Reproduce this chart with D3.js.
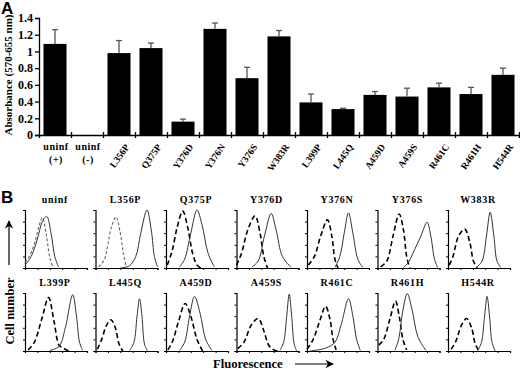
<!DOCTYPE html>
<html>
<head>
<meta charset="utf-8">
<script src="https://cdn.jsdelivr.net/npm/d3@7"></script>
<style>
  body { margin: 0; background: #fff; }
  text { font-family: "Liberation Serif", "DejaVu Serif", serif; font-weight: bold; }
</style>
</head>
<body>
<div id="chart"></div>
<script>
// Panel A data
const categories = ["uninf|(+)", "uninf|(-)", "L356P", "Q375P", "Y376D", "Y376N", "Y376S", "W383R",
    "L399P", "L445Q", "A459D", "A459S", "R461C", "R461H", "H544R"];
const absorbance = [1.09, -0.008, 0.98, 1.04, 0.16, 1.27, 0.68, 1.18, 0.39, 0.31, 0.48, 0.46, 0.57, 0.49, 0.72];
const errors = [0.17, 0, 0.15, 0.06, 0.03, 0.07, 0.13, 0.07, 0.10, 0.01, 0.04, 0.10, 0.05, 0.08, 0.08];
const yTicks = [0, 0.2, 0.4, 0.6, 0.8, 1, 1.2, 1.4];

// Panel B data: histogram outlines as [fluorescence, count] in axis fractions
const panelNames = ["uninf", "L356P", "Q375P", "Y376D", "Y376N", "Y376S", "W383R",
    "L399P", "L445Q", "A459D", "A459S", "R461C", "R461H", "H544R"];
const dashedCurves = [
    [[0,0.1],[0.08,0.22],[0.16,0.45],[0.22,0.7],[0.28,0.87],[0.34,0.6],[0.40,0.18],[0.45,0.02]],
    [[0.05,0.02],[0.14,0.14],[0.19,0.35],[0.26,0.72],[0.33,0.88],[0.40,0.6],[0.45,0.25],[0.50,0.01]],
    [[0.02,0.05],[0.10,0.3],[0.18,0.7],[0.27,0.98],[0.35,0.7],[0.43,0.25],[0.50,0.05],[0.56,0]],
    [[0,0.05],[0.08,0.25],[0.18,0.65],[0.30,0.9],[0.38,0.6],[0.44,0.2],[0.50,0]],
    [[0.02,0.05],[0.12,0.2],[0.22,0.55],[0.33,0.83],[0.40,0.55],[0.45,0.15],[0.50,0]],
    [[0.05,0.02],[0.15,0.12],[0.25,0.55],[0.35,0.93],[0.42,0.65],[0.47,0.2],[0.52,0]],
    [[0.02,0.05],[0.08,0.2],[0.17,0.55],[0.27,0.67],[0.35,0.45],[0.41,0.12],[0.47,0]],
    [[0.05,0.02],[0.15,0.15],[0.27,0.55],[0.38,0.92],[0.47,0.5],[0.55,0.1],[0.62,0.05],[0.70,0]],
    [[0.03,0.03],[0.10,0.2],[0.18,0.45],[0.25,0.54],[0.32,0.4],[0.38,0.12],[0.44,0]],
    [[0.03,0.02],[0.10,0.15],[0.20,0.5],[0.31,0.82],[0.40,0.6],[0.50,0.2],[0.59,0]],
    [[0.02,0.04],[0.12,0.15],[0.24,0.45],[0.35,0.56],[0.44,0.35],[0.52,0.1],[0.60,0.02],[0.68,0]],
    [[0,0.03],[0.10,0.2],[0.20,0.5],[0.30,0.77],[0.37,0.55],[0.42,0.2],[0.47,0.02]],
    [[0.02,0.1],[0.10,0.2],[0.20,0.55],[0.29,0.86],[0.35,0.6],[0.41,0.2],[0.47,0.02]],
    [[0.05,0.03],[0.12,0.15],[0.22,0.45],[0.30,0.56],[0.38,0.4],[0.44,0.12],[0.50,0]]
];
const solidCurves = [
    [[0,0.05],[0.10,0.2],[0.20,0.5],[0.28,0.8],[0.35,0.89],[0.42,0.6],[0.48,0.2],[0.54,0.02]],
    [[0.40,0],[0.55,0.04],[0.65,0.2],[0.73,0.6],[0.83,1.0],[0.90,0.65],[0.95,0.2],[1.0,0.02]],
    [[0.22,0.02],[0.30,0.15],[0.40,0.6],[0.50,1.0],[0.58,0.75],[0.68,0.25],[0.78,0.02]],
    [[0.25,0.02],[0.35,0.12],[0.45,0.55],[0.56,0.94],[0.64,0.65],[0.74,0.2],[0.88,0.01]],
    [[0.45,0.01],[0.53,0.2],[0.60,0.6],[0.67,0.95],[0.74,0.6],[0.82,0.15],[0.90,0.01]],
    [[0.42,0.01],[0.50,0.1],[0.60,0.32],[0.70,0.55],[0.80,0.79],[0.86,0.55],[0.92,0.15],[0.97,0.01]],
    [[0.46,0.01],[0.55,0.12],[0.62,0.55],[0.68,0.96],[0.74,0.55],[0.79,0.12],[0.85,0.01]],
    [[0.40,0.01],[0.55,0.08],[0.65,0.4],[0.77,0.97],[0.83,0.6],[0.88,0.15],[0.93,0.01]],
    [[0.55,0.01],[0.62,0.15],[0.67,0.6],[0.71,0.9],[0.75,0.6],[0.79,0.12],[0.84,0]],
    [[0.22,0.01],[0.30,0.15],[0.38,0.6],[0.46,0.94],[0.55,0.65],[0.64,0.2],[0.74,0.01]],
    [[0.70,0.01],[0.76,0.15],[0.81,0.6],[0.85,0.98],[0.89,0.6],[0.93,0.12],[0.97,0]],
    [[0.05,0],[0.30,0.05],[0.45,0.15],[0.55,0.45],[0.67,0.9],[0.74,0.6],[0.80,0.2],[0.86,0.01]],
    [[0.28,0.01],[0.34,0.2],[0.41,0.7],[0.48,0.99],[0.56,0.7],[0.65,0.25],[0.78,0.01]],
    [[0.48,0.01],[0.54,0.15],[0.59,0.6],[0.63,0.94],[0.67,0.6],[0.71,0.15],[0.76,0]]
];
const lightDashed = ["uninf", "L356P"];

const width = 520, height = 370;

const svg = d3.select("#chart")
    .append("svg")
    .attr("width", width)
    .attr("height", height)
    .style("background", "#fff");

// ---------- Panel A ----------
svg.append("text")
    .attr("x", 1)
    .attr("y", 14)
    .style("font-family", "'Liberation Sans', Arial, sans-serif")
    .style("font-size", "17px")
    .text("A");

const x = d3.scaleBand()
    .domain(categories)
    .range([39, 519])
    .paddingInner(0.28)
    .paddingOuter(0.14);

const y = d3.scaleLinear()
    .domain([0, 1.4])
    .range([135, 18]);

// boundaries between categories
const xEdge = d3.scaleLinear().domain([0, categories.length]).range([39, 519]);

const yAxis = svg.append("g")
    .attr("transform", "translate(39,0)")
    .call(d3.axisLeft(y).tickValues(yTicks).tickSize(4).tickFormat(d => d));
yAxis.select(".domain").attr("stroke", "#000").attr("stroke-width", 1.3);
yAxis.selectAll(".tick line").attr("stroke-width", 1.3);
yAxis.selectAll("text")
    .attr("font-size", 12)
    .attr("font-family", "'Liberation Serif', serif")
    .style("font-size", "12px")
    .style("font-weight", "bold")
    .attr("x", -6);

const xAxis = svg.append("g")
    .attr("transform", "translate(0,135)")
    .call(d3.axisBottom(xEdge).tickValues(d3.range(1, categories.length + 1)).tickSize(3).tickFormat(""));
xAxis.select(".domain").attr("stroke", "#000").attr("stroke-width", 1.3);
xAxis.selectAll(".tick line").attr("y1", -3).attr("stroke-width", 1.3);

svg.append("text")
    .attr("transform", "translate(12,75) rotate(-90)")
    .attr("text-anchor", "middle")
    .style("font-size", "11px")
    .text("Absorbance (570-655 nm)");

// bars
svg.selectAll(".bar")
    .data(categories)
    .enter()
    .append("rect")
    .attr("class", "bar")
    .attr("x", d => x(d))
    .attr("width", x.bandwidth())
    .attr("y", (d, i) => y(Math.max(0, absorbance[i])))
    .attr("height", (d, i) => Math.max(1, Math.abs(y(absorbance[i]) - y(0))))
    .attr("fill", "#000");

// error bars
const errG = svg.selectAll(".err")
    .data(categories.filter((d, i) => errors[i] > 0))
    .enter()
    .append("g")
    .attr("class", "err");
errG.append("line")
    .attr("x1", d => x(d) + x.bandwidth() / 2)
    .attr("x2", d => x(d) + x.bandwidth() / 2)
    .attr("y1", d => y(absorbance[categories.indexOf(d)]))
    .attr("y2", d => { const i = categories.indexOf(d); return y(absorbance[i] + errors[i]); })
    .attr("stroke", "#555")
    .attr("stroke-width", 1.3);
errG.append("line")
    .attr("x1", d => x(d) + x.bandwidth() / 2 - 3)
    .attr("x2", d => x(d) + x.bandwidth() / 2 + 3)
    .attr("y1", d => { const i = categories.indexOf(d); return y(absorbance[i] + errors[i]); })
    .attr("y2", d => { const i = categories.indexOf(d); return y(absorbance[i] + errors[i]); })
    .attr("stroke", "#555")
    .attr("stroke-width", 1.3);

// category labels
categories.forEach(c => {
    const cx = x(c) + x.bandwidth() / 2;
    if (c.includes("|")) {
        const parts = c.split("|");
        svg.append("text")
            .attr("x", cx + 1)
            .attr("y", 150)
            .attr("text-anchor", "middle")
            .style("font-size", "10px")
            .style("letter-spacing", "0.5px")
            .text(parts[0]);
        svg.append("text")
            .attr("x", cx + 1)
            .attr("y", 163)
            .attr("text-anchor", "middle")
            .style("font-size", "10px")
            .style("letter-spacing", "0.5px")
            .text(parts[1]);
    } else {
        svg.append("text")
            .attr("transform", `translate(${cx + 8},${145}) rotate(-55)`)
            .attr("text-anchor", "end")
            .attr("dy", "0.35em")
            .style("font-size", "9.5px")
            .text(c);
    }
});

// ---------- Panel B ----------
svg.append("text")
    .attr("x", 1)
    .attr("y", 203)
    .style("font-family", "'Liberation Sans', Arial, sans-serif")
    .style("font-size", "17px")
    .text("B");

const panelW = 62, panelH = 58;
const colStep = 70.5;
const rowTops = [210, 293];

const px = d3.scaleLinear().domain([0, 1]).range([0, panelW]);
const py = d3.scaleLinear().domain([0, 1]).range([panelH, 0]);
const curve = d3.line()
    .x(d => px(d[0]))
    .y(d => Math.min(panelH, py(d[1])))
    .curve(d3.curveCatmullRom.alpha(0.5));

panelNames.forEach((name, i) => {
    const col = i % 7, row = Math.floor(i / 7);
    const g = svg.append("g")
        .attr("transform", `translate(${25 + col * colStep},${rowTops[row]})`);

    g.append("text")
        .attr("x", panelW / 2 - 1)
        .attr("y", -7)
        .attr("text-anchor", "middle")
        .style("font-size", "10px")
        .style("letter-spacing", "0.7px")
        .text(name);

    const ax = g.append("g")
        .attr("transform", `translate(0,${panelH})`)
        .call(d3.axisBottom(px).ticks(6).tickSize(2).tickFormat(""));
    const ay = g.append("g")
        .call(d3.axisLeft(py).ticks(6).tickSize(2).tickFormat(""));
    [ax, ay].forEach(a => {
        a.select(".domain").attr("stroke", "#000").attr("stroke-width", 1.2);
        a.selectAll(".tick line").attr("stroke-width", 1);
    });

    const light = lightDashed.includes(name);
    g.append("path")
        .attr("d", curve(dashedCurves[i]))
        .attr("fill", "none")
        .attr("stroke", light ? "#666" : "#000")
        .attr("stroke-width", light ? 1.1 : 1.6)
        .attr("stroke-dasharray", light ? "3,2" : "5,3");
    g.append("path")
        .attr("d", curve(solidCurves[i]))
        .attr("fill", "none")
        .attr("stroke", "#333")
        .attr("stroke-width", 1);
});

// axis captions with arrows
svg.append("defs").append("marker")
    .attr("id", "arrow")
    .attr("viewBox", "0 0 10 10")
    .attr("refX", 9)
    .attr("refY", 5)
    .attr("markerWidth", 7)
    .attr("markerHeight", 7)
    .attr("orient", "auto")
    .append("path")
    .attr("d", "M0,0 L10,5 L0,10 L3,5 Z")
    .attr("fill", "#000");

svg.append("line")
    .attr("x1", 9).attr("x2", 9)
    .attr("y1", 265).attr("y2", 221)
    .attr("stroke", "#000")
    .attr("stroke-width", 1.2)
    .attr("marker-end", "url(#arrow)");

svg.append("text")
    .attr("transform", "translate(14,311) rotate(-90)")
    .attr("text-anchor", "middle")
    .style("font-size", "12.5px")
    .text("Cell number");

svg.append("text")
    .attr("x", 213)
    .attr("y", 368)
    .style("font-size", "12.6px")
    .text("Fluorescence");

svg.append("line")
    .attr("x1", 295).attr("x2", 333)
    .attr("y1", 364).attr("y2", 364)
    .attr("stroke", "#000")
    .attr("stroke-width", 1.2)
    .attr("marker-end", "url(#arrow)");
</script>
</body>
</html>
